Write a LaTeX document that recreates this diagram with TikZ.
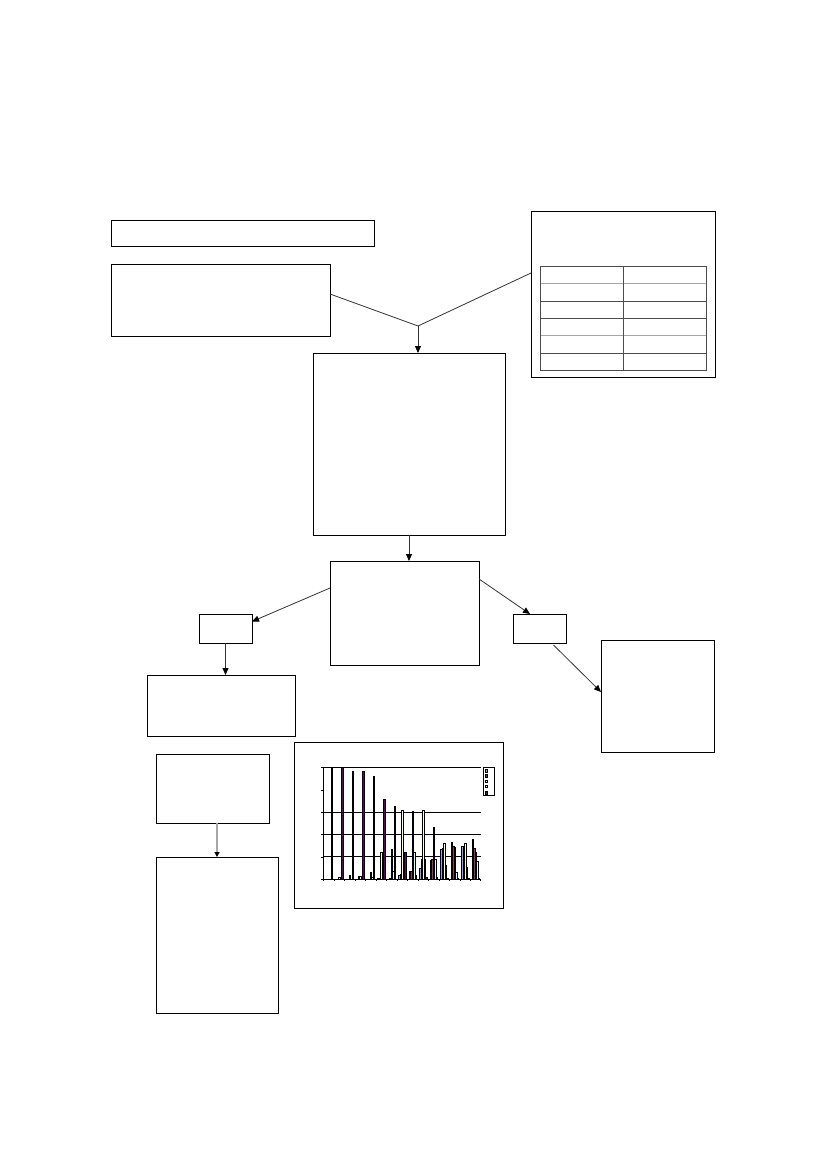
\documentclass[tikz,border=0pt]{standalone}
\usepackage{tikz}
\usetikzlibrary{arrows.meta,positioning,calc}
\definecolor{ser0}{HTML}{9999FF}
\definecolor{ser1}{HTML}{993366}
\definecolor{ser2}{HTML}{FFFFCC}
\definecolor{ser3}{HTML}{CCFFFF}
\definecolor{ser4}{HTML}{660066}

\begin{document}
\begin{tikzpicture}[
    x=1bp, y=-1bp,
    box/.style={draw, line width=1bp, inner sep=0pt, outer sep=0pt},
    link/.style={draw=black!80, line width=0.8bp, -{Triangle[length=7bp, width=6bp, color=black]}},
    tblline/.style={draw=black!70, line width=0.8bp},
    bar/.style={draw=black, line width=0.3bp},
  ]
  \useasboundingbox (0,0) rectangle (827,1169);

  % Top row
  \node[box, minimum width=262bp, minimum height=26bp] (bTitle) at (243,233) {};
  \node[box, minimum width=218bp, minimum height=72bp] (bInput) at (221,300) {};
  \node[box, minimum width=184bp, minimum height=166bp] (bTable) at (623,294) {};

  % Table inside the right box
  \foreach \ry in {266,301.3,318.7,353.3,370}
    \draw[tblline] (540,\ry) -- (706.7,\ry);
  \foreach \ry in {283.7,335.7}
    \draw[draw=black!35, line width=1.4bp] (540,\ry) -- (706.7,\ry);
  \foreach \rx in {540,623.3,706.7}
    \draw[tblline] (\rx,266) -- (\rx,370);

  % Main chain
  \node[box, minimum width=192bp, minimum height=182bp] (bCentral) at (409,444) {};
  \node[box, minimum width=149bp, minimum height=104bp] (bMid) at (404.5,613) {};
  \node[box, minimum width=53bp, minimum height=29bp] (bSmallL) at (225.5,628.5) {};
  \node[box, minimum width=53bp, minimum height=29bp] (bSmallR) at (539.5,628.5) {};
  \node[box, minimum width=113bp, minimum height=112bp] (bRight) at (657.5,696) {};
  \node[box, minimum width=148bp, minimum height=61bp] (bNote) at (221,705.5) {};
  \node[box, minimum width=113bp, minimum height=69bp] (bMidL) at (212.5,788.5) {};
  \node[box, minimum width=122bp, minimum height=156bp] (bLow) at (217,935) {};
  \node[box, minimum width=209bp, minimum height=166bp] (bChart) at (398.5,825) {};

  % Connectors
  \coordinate (jn) at (418,326);
  \draw[draw=black!80, line width=0.8bp]
    ($(bInput.east)+(0,-6)$) -- (jn) -- ($(bTable.west)+(0,-21)$);
  \draw[link] (jn) -- (jn |- bCentral.north);
  \draw[link] (bCentral.south) -- (bCentral.south |- bMid.north);
  \draw[link] ($(bMid.west)+(0,-25)$) -- ($(bSmallL.east)+(0,-7)$);
  \draw[link] ($(bMid.east)+(0,-34)$) -- ($(bSmallR.north)+(-9.5,0)$);
  \draw[link] (bSmallL.south) -- (bSmallL.south |- bNote.north);
  \draw[link] ($(bSmallR.south)+(14,2)$) -- ($(bRight.west)+(0,-4)$);
  \draw[draw=black!35, line width=1.2bp, -{Triangle[length=5bp, width=5bp, color=black]}]
    (bLow.north |- bMidL.south) -- (bLow.north);

  % Bar chart
  \begin{scope}[shift={(323.3,879.3)}]
    \foreach \g in {23,45,67,112}
      \draw[line width=1bp] (0,-\g) -- (157.4,-\g);
    \draw[line width=0.6bp] (0,-112) -- (0,0) -- (157.4,0);
    \foreach \g in {0,22.4,44.8,67.2,89.6,112}
      \draw[line width=0.4bp] (0,-\g) -- (-2,-\g);
    \foreach \i in {0,...,15}
      \draw[line width=0.4bp] ({\i*10.493},0) -- ({\i*10.493},2);
    \foreach \vals [count=\c from 0] in {
        {0,0,0,0,100},{0,0,2,0,100},{0,0,4,0,97},{0,3,3,0,97},{0,0,6,2,92},
        {1,0,24,2,72},{0,1,27,7,65},{4,5,62,7,24},{7,7,61,24,4},{10,18,62,18,2},
        {17,18,47,18,2},{27,28,32,13,1},{33,30,29,6,1},{30,27,32,11,1},{36,28,24,16,1}}
      \foreach \v [count=\k from 0] in \vals {
        \ifnum\v>0
          \path[bar, fill=ser\k] ({\c*10.493+(1+\k)*1.5},0) rectangle ++(1.5,{-\v*1.12});
        \fi
      }
  \end{scope}

  % Legend
  \draw[line width=0.8bp] (483,767) rectangle (494.5,795);
  \foreach \ly [count=\k from 0] in {770.7,775.7,781.3,786.3,792.7}
    \path[bar, fill=ser\k, line width=0.5bp] (485,\ly-1.3) rectangle ++(2.6,2.6);
\end{tikzpicture}
\end{document}
